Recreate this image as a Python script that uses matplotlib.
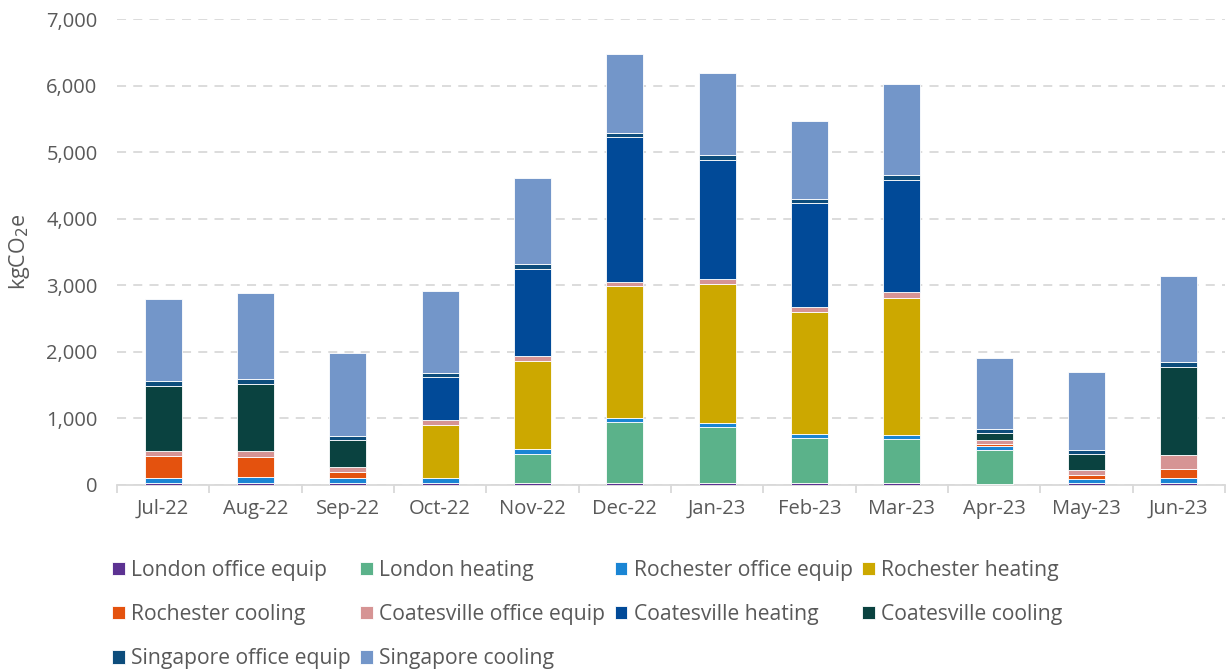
import matplotlib
matplotlib.use("Agg")
import matplotlib.pyplot as plt
from matplotlib.ticker import FuncFormatter, MultipleLocator
import numpy as np

months = ["Jul-22", "Aug-22", "Sep-22", "Oct-22", "Nov-22", "Dec-22",
          "Jan-23", "Feb-23", "Mar-23", "Apr-23", "May-23", "Jun-23"]

london_office_equip      = [30, 30, 30, 30, 25, 25, 25, 25, 30, 15, 25, 25]
london_heating           = [0, 0, 0, 0, 447, 923, 848, 677, 657, 512, 0, 0]
rochester_office_equip   = [80, 85, 75, 75, 70, 56, 60, 61, 71, 65, 60, 75]
rochester_heating        = [0, 0, 0, 791, 1320, 1981, 2083, 1831, 2057, 0, 0, 0]
rochester_cooling        = [321, 310, 90, 0, 0, 0, 0, 0, 0, 30, 71, 146]
coatesville_office_equip = [75, 86, 75, 75, 80, 71, 75, 80, 85, 60, 65, 201]
coatesville_heating      = [0, 0, 0, 646, 1304, 2172, 1796, 1561, 1686, 0, 0, 0]
coatesville_cooling      = [985, 1010, 411, 0, 0, 0, 0, 0, 0, 106, 241, 1324]
singapore_office_equip   = [70, 70, 60, 70, 71, 66, 65, 55, 75, 60, 65, 70]
singapore_cooling        = [1232, 1287, 1236, 1226, 1289, 1174, 1230, 1184, 1360, 1059, 1169, 1295]

series_names = ["London office equip", "London heating", "Rochester office equip",
                "Rochester heating", "Rochester cooling", "Coatesville office equip",
                "Coatesville heating", "Coatesville cooling", "Singapore office equip",
                "Singapore cooling"]
series_values = [london_office_equip, london_heating, rochester_office_equip,
                 rochester_heating, rochester_cooling, coatesville_office_equip,
                 coatesville_heating, coatesville_cooling, singapore_office_equip,
                 singapore_cooling]
series_colors = ["#5c3292", "#5bb28a", "#1a85d4", "#cca800", "#e4520e",
                 "#d69494", "#014a98", "#0a4240", "#0d4d7c", "#7396c9"]

plt.rcParams["font.family"] = ["Open Sans", "DejaVu Sans"]

fig = plt.figure(figsize=(12.28, 6.72), dpi=100)
ax = fig.add_axes([117/1228, 1 - 485/672, (1225-117)/1228, (485-19)/672])

x = np.arange(len(months))
bottom = np.zeros(len(months))
handles = []
for name, vals, col in zip(series_names, series_values, series_colors):
    v = np.array(vals, dtype=float)
    b = ax.bar(x, v, width=0.4, bottom=bottom, color=col, label=name,
               edgecolor="white", linewidth=0.6, zorder=3)
    handles.append(b)
    bottom += v

ax.set_xlim(-0.5, len(months) - 0.5)
ax.set_ylim(0, 7000)
ax.yaxis.set_major_locator(MultipleLocator(1000))
ax.yaxis.set_major_formatter(FuncFormatter(lambda v, p: f"{int(v):,}"))
ax.grid(axis="y", color="#d9d9d9", linestyle=(0, (5, 4)), linewidth=1.3, zorder=0)
ax.set_axisbelow(True)

ax.set_xticks(x)
ax.set_xticklabels(months)
ax.set_xticks(np.arange(-0.5, len(months), 1.0), minor=True)
ax.tick_params(axis="x", which="major", length=0, pad=10, labelsize=14.5, labelcolor="#595959")
ax.tick_params(axis="x", which="minor", length=6, color="#d9d9d9", width=1.3)
ax.tick_params(axis="y", length=0, pad=14, labelsize=14.5, labelcolor="#595959")

for s in ["top", "right", "left"]:
    ax.spines[s].set_visible(False)
ax.spines["bottom"].set_color("#d9d9d9")
ax.spines["bottom"].set_linewidth(1.3)

ax.set_ylabel("kgCO$_2$e", fontsize=15.5, color="#595959", labelpad=10)

# row-major legend order for a 4-column legend
ncol = 4
nrow = int(np.ceil(len(handles) / ncol))
order = [r * ncol + c for c in range(ncol) for r in range(nrow) if r * ncol + c < len(handles)]
leg = fig.legend(handles=[handles[i] for i in order],
                 labels=[series_names[i] for i in order], ncol=ncol,
                 loc="upper left", bbox_to_anchor=(95/1228, 1 - 543/672),
                 frameon=False, fontsize=15.2, handlelength=0.6, handleheight=0.6,
                 handletextpad=0.3, columnspacing=0.45, labelspacing=1.1,
                 labelcolor="#595959", borderpad=0.3)

fig.savefig("out.png", dpi=100)
